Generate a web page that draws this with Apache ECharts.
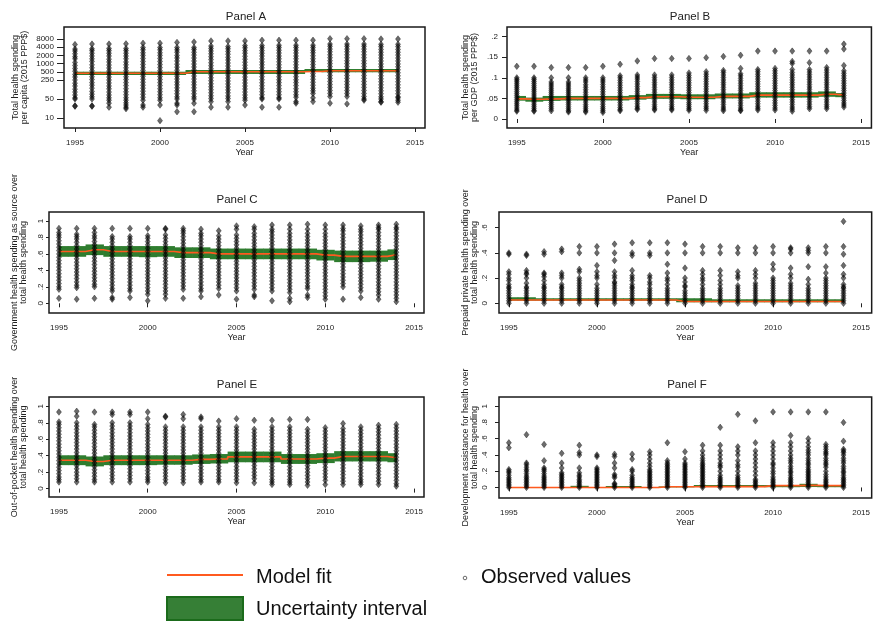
<!DOCTYPE html>
<html><head><meta charset="utf-8">
<script src="https://cdn.jsdelivr.net/npm/echarts@6/dist/echarts.min.js"></script>
<style>html,body{margin:0;padding:0;background:#fff}#c{width:873px;height:623px}</style>
</head><body><div id="c"></div>
<script>
const years = [1995,1996,1997,1998,1999,2000,2001,2002,2003,2004,2005,2006,2007,2008,2009,2010,2011,2012,2013,2014];
const xTicks = [1995,2000,2005,2010,2015];
const tickA = [10,50,250,500,1000,2000,4000,8000];
const tickB = [0,0.05,0.1,0.15,0.2];
const tickC = [0,0.2,0.4,0.6,0.8,1];
const tickD = [0,0.2,0.4,0.6];
const tickE = [0,0.2,0.4,0.6,0.8,1];
const tickF = [0,0.2,0.4,0.6,0.8,1];

// Panel A: total health spending per capita (observed values per year)
const obsA = [
[5000,3400,2900,2300,1800,1500,1100,850,660,520,400,320,250,190,150,115,90,70,55,50,28,27],
[5200,3500,3000,2400,1900,1500,1200,900,700,540,420,330,260,200,160,125,95,75,60,50,28,27],
[5200,3600,3000,2400,1900,1450,1150,880,690,530,410,320,250,195,150,118,90,70,55,45,35,25],
[5300,3600,3000,2400,1900,1500,1150,900,700,550,420,330,260,200,155,120,92,72,56,45,36,30,25,22],
[5600,3900,3200,2500,2000,1550,1200,930,720,560,430,340,265,205,160,125,97,75,58,45,30,25],
[5600,3900,3200,2500,2000,1550,1200,920,710,550,430,335,260,200,155,120,93,72,56,45,30,8],
[6000,3900,3200,2600,2000,1600,1250,950,740,570,440,345,270,210,165,128,100,78,60,50,35,30,17],
[6200,3900,3300,2600,2050,1600,1250,960,750,580,450,350,270,210,165,128,100,78,60,50,35,17],
[6800,4400,3600,2900,2300,1800,1400,1080,840,650,500,390,300,235,180,140,110,85,66,52,40,25],
[6800,4200,3500,2800,2200,1700,1350,1050,810,630,490,380,295,230,178,138,108,84,65,52,40,25],
[6800,4600,3800,3000,2400,1850,1450,1120,870,680,530,410,320,250,193,150,117,90,70,55,45,30],
[7200,4600,3800,3000,2400,1900,1480,1150,900,700,540,420,330,255,198,154,120,93,72,56,50,25],
[7200,4700,3900,3100,2450,1900,1500,1160,900,700,545,425,330,255,200,155,120,93,72,56,50,25],
[7200,4700,3900,3100,2450,1900,1500,1160,900,700,545,425,330,255,200,155,120,93,72,58,40,35],
[7200,4700,3900,3100,2500,1950,1520,1180,920,720,560,435,340,265,205,160,125,100,80,55,40],
[8200,5200,4300,3400,2700,2100,1650,1280,1000,780,600,470,365,285,220,170,133,103,80,62,35],
[8200,5200,4300,3400,2700,2100,1650,1280,1000,780,600,470,365,285,220,170,133,103,80,62,33],
[8200,5200,4300,3400,2700,2100,1650,1280,1000,780,600,470,365,285,220,170,133,103,80,62,50,45],
[8000,5100,4200,3300,2600,2050,1600,1250,970,760,590,460,355,275,215,165,128,100,78,60,50,40,38],
[8000,5100,4200,3300,2600,2050,1600,1250,970,760,590,460,355,275,215,165,128,100,78,60,55,45,38]
];
const fitA = [440,440,440,440,440,440,440,503,503,503,503,503,503,503,513,548,548,548,548,548];
const loA  = [381,381,381,381,381,381,381,415,415,415,415,415,415,415,503,479,479,479,479,479];
const hiA  = [503,503,503,503,503,503,503,582,582,582,582,582,582,582,631,631,631,631,631,631];

// Panel B: total health spending per GDP
const obsB = [
[.128,.1,.096,.092,.087,.082,.077,.072,.067,.062,.057,.052,.047,.042,.037,.032,.027,.022,.019],
[.128,.1,.096,.091,.086,.081,.076,.071,.066,.061,.056,.051,.046,.041,.036,.031,.026,.021,.019],
[.125,.1,.09,.085,.08,.075,.07,.065,.06,.055,.05,.045,.04,.035,.03,.025,.02],
[.125,.1,.09,.085,.08,.075,.07,.065,.06,.055,.05,.045,.04,.035,.03,.025,.02,.017],
[.125,.1,.095,.09,.083,.077,.071,.065,.059,.053,.047,.041,.035,.03,.025,.02,.017],
[.128,.1,.095,.09,.084,.078,.072,.066,.06,.054,.048,.042,.036,.03,.025,.02,.016],
[.133,.105,.1,.094,.088,.082,.076,.07,.064,.058,.052,.046,.04,.034,.028,.023,.02],
[.141,.107,.102,.097,.091,.085,.079,.073,.067,.061,.055,.049,.043,.037,.031,.026,.023],
[.147,.107,.101,.095,.089,.083,.077,.071,.065,.059,.053,.047,.041,.035,.03,.025,.022],
[.147,.107,.101,.095,.089,.083,.077,.071,.065,.059,.053,.047,.041,.035,.03,.025,.022],
[.147,.112,.106,.1,.094,.088,.082,.076,.07,.064,.058,.052,.046,.04,.035,.03,.025,.021],
[.149,.115,.109,.103,.097,.091,.085,.079,.073,.067,.061,.055,.049,.043,.037,.031,.026,.021],
[.152,.118,.113,.107,.101,.095,.089,.083,.077,.071,.065,.059,.053,.047,.041,.035,.029,.024,.02],
[.155,.123,.11,.105,.099,.093,.087,.081,.075,.069,.063,.057,.051,.045,.039,.033,.027,.022,.02],
[.165,.12,.115,.109,.103,.097,.091,.085,.079,.073,.067,.061,.055,.049,.043,.037,.031,.026,.022],
[.165,.123,.117,.111,.105,.099,.093,.087,.081,.075,.069,.063,.057,.051,.045,.039,.033,.027,.022],
[.165,.14,.135,.12,.113,.107,.101,.095,.089,.083,.077,.071,.065,.059,.053,.047,.041,.035,.029,.024,.019],
[.165,.137,.12,.114,.108,.102,.096,.09,.084,.078,.072,.066,.06,.054,.048,.042,.036,.03,.025],
[.165,.125,.119,.113,.107,.101,.095,.089,.083,.077,.071,.065,.059,.053,.047,.041,.035,.03,.025],
[.182,.17,.13,.117,.111,.105,.099,.093,.087,.081,.075,.069,.063,.057,.051,.045,.039,.034,.029]
];
const fitB = [.049,.048,.049,.05,.05,.05,.05,.052,.054,.054,.053,.053,.055,.055,.058,.058,.058,.058,.06,.058];
const loB  = [.0445,.042,.044,.045,.045,.045,.045,.047,.049,.049,.048,.048,.05,.05,.052,.052,.052,.052,.054,.053];
const hiB  = [.056,.052,.056,.056,.056,.056,.056,.058,.061,.061,.06,.06,.062,.062,.065,.065,.065,.065,.067,.063];

// Panel C: government health spending share
const obsC = [
[.91,.86,.83,.8,.76,.72,.68,.64,.6,.56,.52,.48,.44,.4,.36,.32,.28,.24,.2,.17,.06],
[.91,.84,.81,.78,.74,.7,.66,.62,.58,.54,.5,.46,.42,.38,.34,.3,.26,.22,.19,.05],
[.91,.86,.82,.79,.75,.71,.67,.63,.59,.55,.51,.47,.43,.39,.35,.31,.27,.23,.2,.06],
[.91,.81,.78,.74,.7,.66,.62,.58,.54,.5,.46,.42,.38,.34,.3,.26,.22,.18,.15,.07,.05],
[.91,.81,.78,.74,.7,.66,.62,.58,.54,.5,.46,.42,.38,.34,.3,.26,.22,.18,.15,.07],
[.91,.82,.79,.75,.71,.67,.63,.59,.55,.51,.47,.43,.39,.35,.31,.27,.23,.19,.15,.11,.03],
[.91,.9,.83,.79,.75,.71,.67,.63,.59,.55,.51,.47,.43,.39,.35,.31,.27,.23,.19,.15,.11,.06],
[.91,.88,.85,.81,.77,.73,.69,.65,.61,.57,.53,.49,.45,.41,.37,.33,.29,.25,.21,.17,.06],
[.9,.85,.82,.78,.74,.7,.66,.62,.58,.54,.5,.46,.42,.38,.34,.3,.26,.22,.18,.15,.08],
[.88,.82,.78,.74,.7,.66,.62,.58,.54,.5,.46,.42,.38,.34,.3,.26,.22,.18,.1],
[.94,.9,.83,.79,.75,.71,.67,.63,.59,.55,.51,.47,.43,.39,.35,.31,.27,.23,.19,.15,.05],
[.93,.9,.85,.81,.77,.73,.69,.65,.61,.57,.53,.49,.45,.41,.37,.33,.29,.25,.21,.17,.1,.08],
[.95,.9,.87,.83,.79,.75,.71,.67,.63,.59,.55,.51,.47,.43,.39,.35,.31,.27,.23,.19,.15,.03],
[.95,.9,.85,.81,.77,.73,.69,.65,.61,.57,.53,.49,.45,.41,.37,.33,.29,.25,.21,.17,.13,.06,.02],
[.96,.9,.85,.81,.77,.73,.69,.65,.61,.57,.53,.49,.45,.41,.37,.33,.29,.25,.21,.18,.1,.07],
[.95,.9,.85,.81,.77,.73,.69,.65,.61,.57,.53,.49,.45,.41,.37,.33,.29,.25,.21,.17,.13,.09,.05],
[.95,.91,.88,.84,.8,.76,.72,.68,.64,.6,.56,.52,.48,.44,.4,.36,.32,.28,.24,.2,.05],
[.94,.9,.87,.83,.79,.75,.71,.67,.63,.59,.55,.51,.47,.43,.39,.35,.31,.27,.23,.19,.15,.07],
[.95,.92,.9,.86,.82,.78,.74,.7,.66,.62,.58,.54,.5,.46,.42,.38,.34,.3,.26,.22,.18,.14,.1,.05],
[.96,.92,.9,.86,.82,.78,.74,.7,.66,.62,.58,.54,.5,.46,.42,.38,.34,.3,.26,.22,.18,.14,.1,.06,.02]
];
const fitC = [.63,.63,.65,.63,.63,.63,.63,.615,.615,.6,.6,.6,.6,.6,.6,.585,.57,.57,.57,.59];
const loC  = [.565,.565,.585,.565,.565,.56,.565,.55,.55,.535,.535,.535,.535,.535,.535,.52,.5,.5,.505,.525];
const hiC  = [.695,.695,.715,.695,.695,.695,.695,.68,.68,.665,.665,.665,.665,.665,.665,.65,.64,.64,.64,.655];

// Panel D: prepaid private health spending share
const obsD = [
[0,.02,.04,.06,.08,.1,.12,.13,.15,.18,.2,.23,.25,.39,.4],
[0,.02,.04,.06,.08,.1,.12,.13,.16,.2,.23,.24,.26,.38,.39],
[0,.02,.04,.06,.08,.1,.12,.13,.15,.18,.21,.23,.24,.39,.41],
[0,.02,.04,.06,.08,.1,.12,.13,.15,.2,.22,.24,.41,.43],
[0,.02,.04,.06,.08,.1,.12,.14,.16,.18,.2,.25,.27,.4,.45],
[0,.02,.04,.06,.08,.1,.12,.15,.2,.22,.25,.3,.4,.45],
[0,.02,.04,.06,.08,.1,.12,.14,.16,.17,.2,.22,.25,.34,.4,.47],
[0,.02,.04,.06,.08,.1,.12,.13,.15,.18,.2,.22,.26,.38,.4,.48],
[0,.02,.04,.06,.08,.1,.12,.15,.17,.2,.22,.38,.4,.48],
[0,.02,.04,.06,.08,.1,.12,.15,.18,.2,.24,.31,.4,.48],
[0,.02,.04,.06,.08,.1,.13,.14,.17,.2,.28,.4,.47],
[0,.02,.04,.06,.08,.1,.12,.15,.18,.2,.23,.26,.4,.45],
[0,.02,.04,.06,.08,.1,.12,.15,.18,.22,.26,.4,.45],
[0,.02,.04,.06,.08,.1,.12,.14,.2,.22,.25,.4,.44],
[0,.02,.04,.06,.08,.1,.12,.14,.16,.2,.23,.26,.4,.44],
[0,.02,.04,.06,.08,.1,.12,.14,.16,.18,.2,.27,.31,.4,.45],
[0,.02,.04,.06,.08,.1,.12,.14,.16,.2,.23,.28,.4,.44,.43],
[0,.02,.04,.06,.08,.1,.12,.15,.19,.29,.4,.42,.44],
[0,.02,.04,.06,.08,.1,.12,.14,.16,.18,.2,.24,.29,.4,.45],
[0,.02,.04,.06,.08,.1,.12,.13,.15,.2,.23,.3,.39,.45,.65]
];
const fitD = [.026,.026,.026,.026,.026,.026,.026,.026,.026,.026,.014,.014,.014,.014,.014,.014,.014,.014,.014,.014];
const loD  = [.02,.02,.02,.02,.02,.02,.02,.02,.02,.02,.008,.008,.008,.008,.008,.008,.008,.008,.008,.008];
const hiD  = [.048,.048,.04,.04,.04,.04,.04,.04,.04,.04,.04,.04,.032,.032,.032,.032,.032,.032,.032,.032];

// Panel E: out-of-pocket health spending share
const obsE = [
[.93,.81,.78,.74,.7,.66,.62,.58,.54,.5,.46,.42,.38,.34,.3,.26,.22,.18,.14,.11,.08],
[.94,.88,.8,.76,.72,.68,.64,.6,.56,.52,.48,.44,.4,.36,.32,.28,.24,.2,.16,.12,.08],
[.93,.78,.75,.71,.67,.63,.59,.55,.51,.47,.43,.39,.35,.31,.27,.23,.19,.15,.11,.08],
[.93,.9,.8,.76,.72,.68,.64,.6,.56,.52,.48,.44,.4,.36,.32,.28,.24,.2,.16,.12,.08],
[.93,.9,.8,.76,.72,.68,.64,.6,.56,.52,.48,.44,.4,.36,.32,.28,.24,.2,.16,.12,.08],
[.93,.85,.78,.74,.7,.66,.62,.58,.54,.5,.46,.42,.38,.34,.3,.26,.22,.18,.14,.11,.08],
[.88,.87,.75,.71,.67,.63,.59,.55,.51,.47,.43,.39,.35,.31,.27,.23,.19,.15,.11,.07],
[.9,.85,.75,.71,.67,.63,.59,.55,.51,.47,.43,.39,.35,.31,.27,.23,.19,.15,.11,.07],
[.87,.85,.75,.71,.67,.63,.59,.55,.51,.47,.43,.39,.35,.31,.27,.23,.19,.15,.11,.08],
[.82,.75,.71,.67,.63,.59,.55,.51,.47,.43,.39,.35,.31,.27,.23,.19,.15,.11,.08],
[.85,.75,.71,.67,.63,.59,.55,.51,.47,.43,.39,.35,.31,.27,.23,.19,.15,.11,.07],
[.83,.72,.68,.64,.6,.56,.52,.48,.44,.4,.36,.32,.28,.24,.2,.16,.12,.07],
[.83,.75,.71,.67,.63,.59,.55,.51,.47,.43,.39,.35,.31,.27,.23,.19,.15,.11,.08,.05],
[.84,.75,.71,.67,.63,.59,.55,.51,.47,.43,.39,.35,.31,.27,.23,.19,.15,.11,.08,.05],
[.84,.72,.68,.64,.6,.56,.52,.48,.44,.4,.36,.32,.28,.24,.2,.16,.12,.08,.04],
[.74,.7,.66,.62,.58,.54,.5,.46,.42,.38,.34,.3,.26,.22,.18,.14,.1,.05],
[.79,.73,.69,.65,.61,.57,.53,.49,.45,.41,.37,.33,.29,.25,.21,.17,.13,.09,.05],
[.75,.71,.67,.63,.59,.55,.51,.47,.43,.39,.35,.31,.27,.23,.19,.15,.11,.08,.05],
[.77,.73,.69,.65,.61,.57,.53,.49,.45,.41,.37,.33,.29,.25,.21,.17,.13,.09,.05],
[.78,.74,.7,.66,.62,.58,.54,.5,.46,.42,.38,.34,.3,.26,.22,.18,.14,.1,.06,.03]
];
const fitE = [.345,.345,.33,.345,.345,.345,.345,.345,.355,.36,.385,.385,.385,.36,.36,.37,.39,.39,.39,.375];
const loE  = [.285,.285,.27,.285,.285,.285,.29,.29,.3,.305,.32,.32,.32,.3,.3,.31,.33,.33,.33,.32];
const hiE  = [.405,.405,.39,.405,.405,.405,.405,.405,.415,.42,.45,.45,.45,.42,.42,.43,.455,.455,.455,.43];

// Panel F: development assistance for health share
const obsF = [
[0,.02,.04,.06,.08,.1,.12,.15,.18,.2,.22,.49,.55],
[0,.02,.04,.06,.08,.1,.12,.14,.17,.2,.22,.25,.28,.3,.65],
[0,.02,.04,.06,.08,.1,.12,.14,.17,.2,.22,.24,.33,.53],
[0,.02,.04,.06,.08,.1,.12,.14,.16,.18,.24,.3,.42],
[0,.02,.04,.06,.08,.1,.13,.15,.18,.24,.4,.43,.52],
[0,.02,.04,.06,.08,.1,.12,.14,.16,.18,.2,.22,.24,.38,.4],
[0,.02,.04,.05,.12,.14,.16,.24,.3,.38,.41],
[0,.02,.04,.06,.08,.1,.12,.15,.2,.22,.35,.41],
[0,.02,.04,.06,.08,.1,.12,.14,.16,.18,.2,.22,.26,.3,.35,.4,.44],
[0,.02,.04,.06,.08,.1,.12,.14,.16,.18,.2,.22,.24,.26,.28,.3,.33,.55],
[0,.02,.04,.06,.08,.1,.12,.14,.16,.18,.2,.22,.24,.26,.28,.3,.35,.44],
[0,.02,.04,.06,.08,.1,.12,.14,.16,.18,.2,.22,.24,.26,.28,.3,.33,.36,.4,.45,.52],
[0,.02,.04,.06,.08,.1,.12,.15,.2,.25,.27,.3,.35,.4,.45,.52,.74],
[0,.02,.04,.06,.08,.1,.12,.15,.2,.25,.28,.33,.4,.45,.5,.9],
[0,.02,.04,.06,.08,.1,.15,.2,.25,.3,.35,.4,.45,.55,.82],
[0,.02,.04,.06,.08,.1,.13,.17,.2,.24,.28,.3,.35,.4,.45,.5,.55,.93],
[0,.02,.04,.06,.08,.1,.12,.15,.18,.2,.23,.26,.3,.33,.36,.4,.45,.5,.55,.64,.93],
[0,.02,.04,.06,.08,.1,.12,.14,.16,.18,.2,.22,.25,.28,.3,.33,.36,.4,.43,.46,.5,.55,.6,.93],
[0,.02,.04,.06,.08,.1,.13,.16,.2,.25,.28,.3,.33,.36,.4,.42,.44,.47,.5,.53,.93],
[0,.02,.04,.06,.08,.1,.12,.15,.18,.2,.23,.26,.3,.33,.36,.4,.43,.45,.47,.57,.8]
];
const fitF = [0,0,0,0,0,0,0,0,0,.008,.008,.01,.01,.01,.01,.022,.022,.025,.022,.022];
const loF  = [-.005,-.005,-.005,-.005,-.002,-.002,-.002,-.002,-.005,.003,.003,.005,.005,.005,.005,.003,.003,.005,.003,.003];
const hiF  = [.005,.005,.005,.005,.02,.005,.018,.018,.005,.013,.013,.03,.03,.03,.03,.03,.03,.045,.03,.03];

const FONT = 'Liberation Sans, Arial, sans-serif';
const TXT = '#222';
const panels = [
 {title:'Panel A', obs:obsA, fit:fitA, lo:loA, hi:hiA, ticks:tickA, log:true,
  box:[64,27,361,101], x:[1994.353,2015.588], y:[4.29,22090], tx:246, ty:17,
  name:'Total health spending\nper capita (2015 PPP$)', nameGap:35, rot:0, lm:10, tl:7},
 {title:'Panel B', obs:obsB, fit:fitB, lo:loB, hi:hiB, ticks:tickB, log:false,
  box:[507,27,372,101], x:[1994.43,2015.6], y:[-0.0219,0.2236], tx:690, ty:17,
  name:'Total health spending\nper GDP (2015 PPP$)', nameGap:28, rot:0, lm:9, tl:5},
 {title:'Panel C', obs:obsC, fit:fitC, lo:loC, hi:hiC, ticks:tickC, log:false,
  box:[49,212,375,101], x:[1994.44,2015.56], y:[-0.118,1.109], tx:237, ty:200,
  name:'Government health spending as source over\ntotal health spending', nameGap:21, rot:90, lm:4, tl:3},
 {title:'Panel D', obs:obsD, fit:fitD, lo:loD, hi:hiD, ticks:tickD, log:false,
  box:[499,212,378,101], x:[1994.44,2015.6], y:[-0.077,0.7246], tx:687, ty:200,
  name:'Prepaid private health spending over\ntotal health spending', nameGap:20, rot:90, lm:10, tl:4},
 {title:'Panel E', obs:obsE, fit:fitE, lo:loE, hi:hiE, ticks:tickE, log:false,
  box:[49,397,375,100], x:[1994.44,2015.56], y:[-0.102,1.113], tx:237, ty:385,
  name:'Out-of-pocket health spending over\ntotal health spending', nameGap:21, rot:90, lm:4, tl:3},
 {title:'Panel F', obs:obsF, fit:fitF, lo:loF, hi:hiF, ticks:tickF, log:false,
  box:[499,397,378,101], x:[1994.44,2015.6], y:[-0.13,1.114], tx:687, ty:385,
  name:'Development assistance for health over\ntotal health spending', nameGap:20, rot:90, lm:10, tl:4}
];

function fmtY(v){ if (v === 0) return '0'; if (Math.abs(v) < 1) return String(v).replace(/^0\./,'.'); return String(v); }
function fmtX(v){ return String(Math.round(v)); }

const grid = [], xAxis = [], yAxis = [], series = [], graphic = [];
panels.forEach((p, i) => {
  grid.push({left:p.box[0], top:p.box[1], width:p.box[2], height:p.box[3], show:true, borderColor:'#1a1a1a', borderWidth:1.5, backgroundColor:'transparent', containLabel:false});
  xAxis.push({type:'value', gridIndex:i, min:p.x[0], max:p.x[1], splitLine:{show:false},
    axisLine:{show:false}, axisTick:{show:true, customValues:xTicks, length:4, lineStyle:{color:'#222'}},
    axisLabel:{customValues:xTicks, fontSize:8, color:TXT, margin:11, fontFamily:FONT, formatter:fmtX},
    name:'Year', nameLocation:'middle', nameGap:19, nameTextStyle:{fontSize:9, color:TXT, fontFamily:FONT}});
  yAxis.push({type:p.log ? 'log' : 'value', logBase:10, gridIndex:i, min:p.y[0], max:p.y[1], splitLine:{show:false},
    axisLine:{show:false}, axisTick:{show:true, customValues:p.ticks, length:p.tl, lineStyle:{color:'#222'}},
    axisLabel:{customValues:p.ticks, fontSize:8, color:TXT, margin:p.lm, rotate:p.rot, fontFamily:FONT, formatter:fmtY},
    name:p.name, nameLocation:'middle', nameRotate:90, nameGap:p.nameGap,
    nameTextStyle:{fontSize:9, lineHeight:9, color:TXT, fontFamily:FONT}});
  series.push({type:'custom', xAxisIndex:i, yAxisIndex:i, z:1, silent:true, clip:true,
    data: years.map((y,k) => [y, p.lo[k], p.hi[k]]),
    encode:{x:0, y:[1,2]},
    renderItem:(params, api) => {
      const x = api.value(0), l = api.value(1), h = api.value(2);
      const x0 = Math.max(x - 0.5, years[0]), x1 = Math.min(x + 0.5, years[years.length-1]);
      const a = api.coord([x0, h]), b = api.coord([x1, l]);
      return {type:'rect', shape:{x:a[0], y:a[1], width:b[0]-a[0]+0.6, height:Math.max(b[1]-a[1],1)}, style:{fill:'#2f7d2f'}};
    }});
  series.push({type:'line', xAxisIndex:i, yAxisIndex:i, z:2, step:'middle', symbol:'none', silent:true,
    data: years.map((y,k) => [y, p.fit[k]]), lineStyle:{color:'#ff5a1f', width:1.6}});
  const pts = [];
  years.forEach((y,k) => p.obs[k].forEach(v => pts.push([y, v])));
  series.push({type:'scatter', xAxisIndex:i, yAxisIndex:i, z:3, silent:true, symbol:'diamond', symbolSize:[5,6.5],
    data: pts, itemStyle:{color:'rgba(0,0,0,0.72)', borderColor:'rgba(0,0,0,0.9)', borderWidth:0.5}});
  graphic.push({type:'text', style:{text:p.title, x:p.tx, y:p.ty, fontSize:11.5, fill:TXT, fontFamily:FONT, align:'center', verticalAlign:'middle'}});
});

// legend
graphic.push({type:'line', shape:{x1:167, y1:575, x2:243, y2:575}, style:{stroke:'#ff5a1f', lineWidth:2}});
graphic.push({type:'text', style:{x:256, y:577, text:'Model fit', fontSize:20, fill:'#111', fontFamily:FONT, verticalAlign:'middle'}});
graphic.push({type:'rect', shape:{x:167, y:597, width:76, height:23}, style:{fill:'#367f36', stroke:'#1b6b1b', lineWidth:2}});
graphic.push({type:'text', style:{x:256, y:609, text:'Uncertainty interval', fontSize:20, fill:'#111', fontFamily:FONT, verticalAlign:'middle'}});
graphic.push({type:'circle', shape:{cx:465, cy:578, r:1.8}, style:{fill:'#fff', stroke:'#444', lineWidth:0.8}});
graphic.push({type:'text', style:{x:481, y:577, text:'Observed values', fontSize:20, fill:'#111', fontFamily:FONT, verticalAlign:'middle'}});

const chart = echarts.init(document.getElementById('c'), null, {renderer:'canvas'});
chart.setOption({animation:false, textStyle:{fontFamily:FONT}, grid, xAxis, yAxis, series, graphic});
</script></body></html>
